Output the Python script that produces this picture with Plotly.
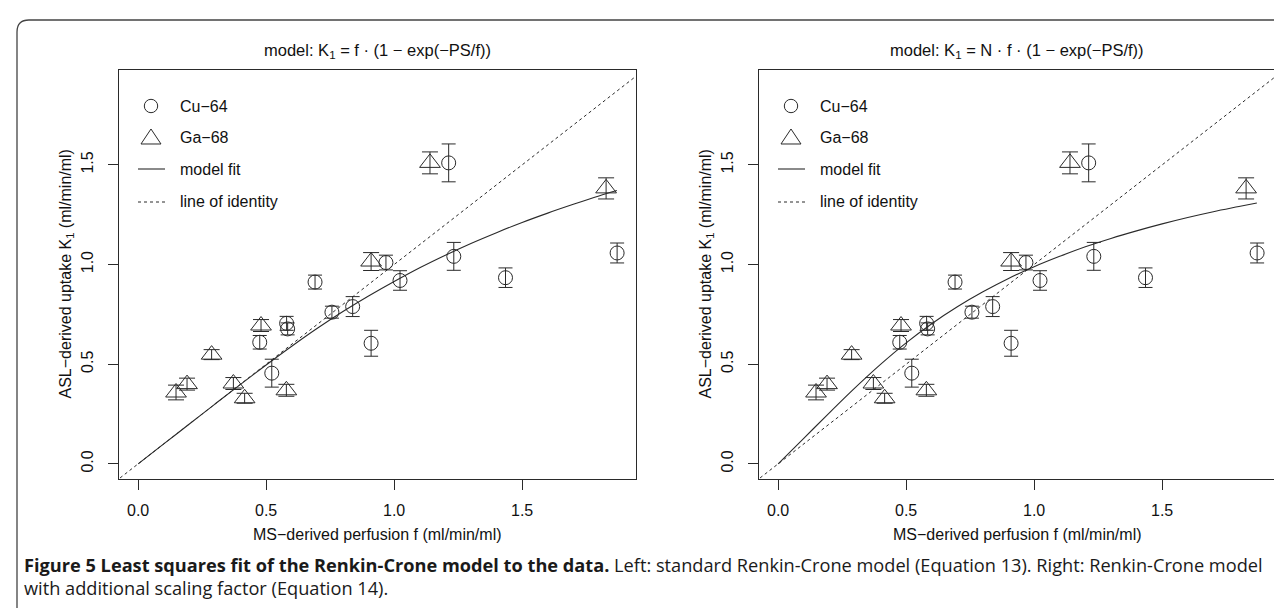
import plotly.graph_objects as go

W, H = 1282, 608

# ---------------- data ----------------
cu_f = [0.475, 0.580, 0.584, 0.522, 0.691, 0.757, 0.838, 0.910, 0.968, 1.023, 1.213, 1.233, 1.435, 1.871]
cu_k = [0.610, 0.705, 0.677, 0.455, 0.912, 0.761, 0.789, 0.605, 1.010, 0.920, 1.510, 1.041, 0.934, 1.058]
cu_err = [0.034, 0.035, 0.030, 0.070, 0.035, 0.030, 0.050, 0.065, 0.037, 0.049, 0.095, 0.070, 0.049, 0.050]

ga_f = [0.148, 0.191, 0.287, 0.372, 0.416, 0.480, 0.579, 0.910, 1.140, 1.828]
ga_k = [0.358, 0.400, 0.548, 0.403, 0.329, 0.694, 0.369, 1.015, 1.510, 1.382]
ga_err = [0.037, 0.030, 0.025, 0.030, 0.025, 0.030, 0.030, 0.045, 0.055, 0.053]

fit_f = [0.0, 0.1, 0.2, 0.3, 0.4, 0.5, 0.6, 0.7, 0.8, 0.9, 1.0, 1.1, 1.2, 1.3, 1.4, 1.5, 1.6, 1.7, 1.8, 1.87]
fit_left_k = [0.0, 0.100, 0.200, 0.300, 0.399, 0.496, 0.590, 0.680, 0.764, 0.842, 0.915, 0.984, 1.047, 1.106,
              1.160, 1.211, 1.258, 1.302, 1.344, 1.371]
fit_right_k = [0.0, 0.128, 0.256, 0.381, 0.499, 0.607, 0.703, 0.788, 0.863, 0.930, 0.989, 1.041, 1.089, 1.131,
               1.169, 1.204, 1.236, 1.265, 1.291, 1.309]

identity_xy = [-0.2, 2.1]

tick_vals = [0.0, 0.5, 1.0, 1.5]
tick_text = ["0.0", "0.5", "1.0", "1.5"]

titles = ["model: K<sub>1</sub> = f · (1 − exp(−PS/f))",
          "model: K<sub>1</sub> = N · f · (1 − exp(−PS/f))"]
x_title = "MS−derived perfusion f (ml/min/ml)"
y_title = "ASL−derived uptake K<sub>1</sub> (ml/min/ml)"
legend_labels = ["Cu−64", "Ga−68", "model fit", "line of identity"]
caption_bold = "Figure 5 Least squares fit of the Renkin-Crone model to the data."
caption_rest = " Left: standard Renkin-Crone model (Equation 13). Right: Renkin-Crone model"
caption_line2 = "with additional scaling factor (Equation 14)."

# ---------------- styling ----------------
INK = "#2a2a2a"
FONT = "Liberation Sans"
FS = 16

def px(x):
    return x / W

def py(y):
    return 1 - y / H

panels = [
    dict(x0=111, x1=628, fit=fit_left_k),
    dict(x0=751, x1=1268, fit=fit_right_k),
]
Y0, Y1 = 62, 471

fig = go.Figure()
annotations = []
shapes = []

for i, p in enumerate(panels):
    xa = "x" if i == 0 else "x2"
    ya = "y" if i == 0 else "y2"
    # identity line
    fig.add_trace(go.Scatter(x=identity_xy, y=identity_xy, mode="lines", xaxis=xa, yaxis=ya,
                             line=dict(color=INK, width=1, dash="3px,3px"), showlegend=False, hoverinfo="skip"))
    # model fit
    fig.add_trace(go.Scatter(x=fit_f, y=p["fit"], mode="lines", xaxis=xa, yaxis=ya,
                             line=dict(color=INK, width=1.1, shape="spline"), showlegend=False, hoverinfo="skip"))
    # Cu-64
    fig.add_trace(go.Scatter(x=cu_f, y=cu_k, mode="markers", xaxis=xa, yaxis=ya,
                             marker=dict(symbol="circle-open", size=14, color=INK, line=dict(width=1, color=INK)),
                             error_y=dict(type="data", array=cu_err, visible=True, color=INK, thickness=1, width=7),
                             showlegend=False))
    # Ga-68
    fig.add_trace(go.Scatter(x=ga_f, y=ga_k, mode="markers", xaxis=xa, yaxis=ya,
                             marker=dict(symbol="triangle-up-open", size=18, color=INK, line=dict(width=1, color=INK)),
                             error_y=dict(type="data", array=ga_err, visible=True, color=INK, thickness=1, width=8),
                             showlegend=False))

    cx = (p["x0"] + p["x1"]) / 2
    # panel title
    annotations.append(dict(text=titles[i], x=px(cx), y=py(43), xref="paper", yref="paper",
                            showarrow=False, xanchor="center", yanchor="middle",
                            font=dict(family=FONT, size=16.5, color="#111")))
    # x title
    annotations.append(dict(text=x_title, x=px(cx), y=py(526), xref="paper", yref="paper",
                            showarrow=False, xanchor="center", yanchor="middle",
                            font=dict(family=FONT, size=FS, color="#111")))
    # y title
    annotations.append(dict(text=y_title, x=px(p["x0"] - 53), y=py((Y0 + Y1) / 2), xref="paper", yref="paper",
                            showarrow=False, xanchor="center", yanchor="middle", textangle=-90,
                            font=dict(family=FONT, size=FS, color="#111")))

    # legend (drawn in the top-left corner of the panel)
    lx = p["x0"] + 32
    tx = p["x0"] + 59
    rows = [98, 130, 161, 194]
    shapes.append(dict(type="circle", xref="paper", yref="paper",
                       x0=px(lx - 6.7), x1=px(lx + 6.7), y0=py(rows[0] + 6.7), y1=py(rows[0] - 6.7),
                       line=dict(color=INK, width=1)))
    tri = "M {:.5f},{:.5f} L {:.5f},{:.5f} L {:.5f},{:.5f} Z".format(
        px(lx), py(rows[1] - 9), px(lx + 10), py(rows[1] + 6), px(lx - 10), py(rows[1] + 6))
    shapes.append(dict(type="path", path=tri, xref="paper", yref="paper", line=dict(color=INK, width=1)))
    shapes.append(dict(type="line", xref="paper", yref="paper", x0=px(lx - 13), x1=px(lx + 14),
                       y0=py(rows[2]), y1=py(rows[2]), line=dict(color=INK, width=1.1)))
    shapes.append(dict(type="line", xref="paper", yref="paper", x0=px(lx - 13), x1=px(lx + 14),
                       y0=py(rows[3]), y1=py(rows[3]), line=dict(color=INK, width=1, dash="3px,3px")))
    for lab, ry in zip(legend_labels, rows):
        annotations.append(dict(text=lab, x=px(tx), y=py(ry), xref="paper", yref="paper",
                                showarrow=False, xanchor="left", yanchor="middle",
                                font=dict(family=FONT, size=FS, color="#111")))

# outer frame with rounded top-left corner
frame = "M {:.5f},{:.5f} L {:.5f},{:.5f} Q {:.5f},{:.5f} {:.5f},{:.5f} L {:.5f},{:.5f}".format(
    px(9), py(620), px(9), py(24), px(9), py(12), px(21), py(12), px(1290), py(12))
shapes.append(dict(type="path", path=frame, xref="paper", yref="paper", line=dict(color="#444", width=1.3)))

# caption
CAP_FONT = dict(family="Open Sans", size=18.2, color="#1a1a1a")
annotations.append(dict(text="<b>" + caption_bold + "</b>" + caption_rest, x=px(14), y=py(557),
                        xref="paper", yref="paper", showarrow=False, xanchor="left", yanchor="middle",
                        font=CAP_FONT))
annotations.append(dict(text=caption_line2, x=px(14), y=py(580),
                        xref="paper", yref="paper", showarrow=False, xanchor="left", yanchor="middle",
                        font=CAP_FONT))

axis_common = dict(showgrid=False, zeroline=False, showline=True, mirror=True, linecolor=INK, linewidth=1,
                   ticks="outside", ticklen=10, tickwidth=1, tickcolor=INK,
                   tickvals=tick_vals, ticktext=tick_text,
                   tickfont=dict(family=FONT, size=FS, color="#111"))

fig.update_layout(
    width=W, height=H,
    margin=dict(l=0, r=0, t=0, b=0),
    paper_bgcolor="white", plot_bgcolor="white",
    showlegend=False,
    xaxis=dict(domain=[px(111), px(628)], range=[-0.0748, 1.9448], anchor="y", ticklabelstandoff=7, **axis_common),
    yaxis=dict(domain=[py(Y1), py(Y0)], range=[-0.076, 1.976], anchor="x", tickangle=-90, ticklabelstandoff=9,
               **axis_common),
    xaxis2=dict(domain=[px(751), px(1268)], range=[-0.0748, 1.9448], anchor="y2", ticklabelstandoff=7,
                **axis_common),
    yaxis2=dict(domain=[py(Y1), py(Y0)], range=[-0.076, 1.976], anchor="x2", tickangle=-90, ticklabelstandoff=9,
                **axis_common),
    annotations=annotations,
    shapes=shapes,
)

fig.write_html("out.html")
